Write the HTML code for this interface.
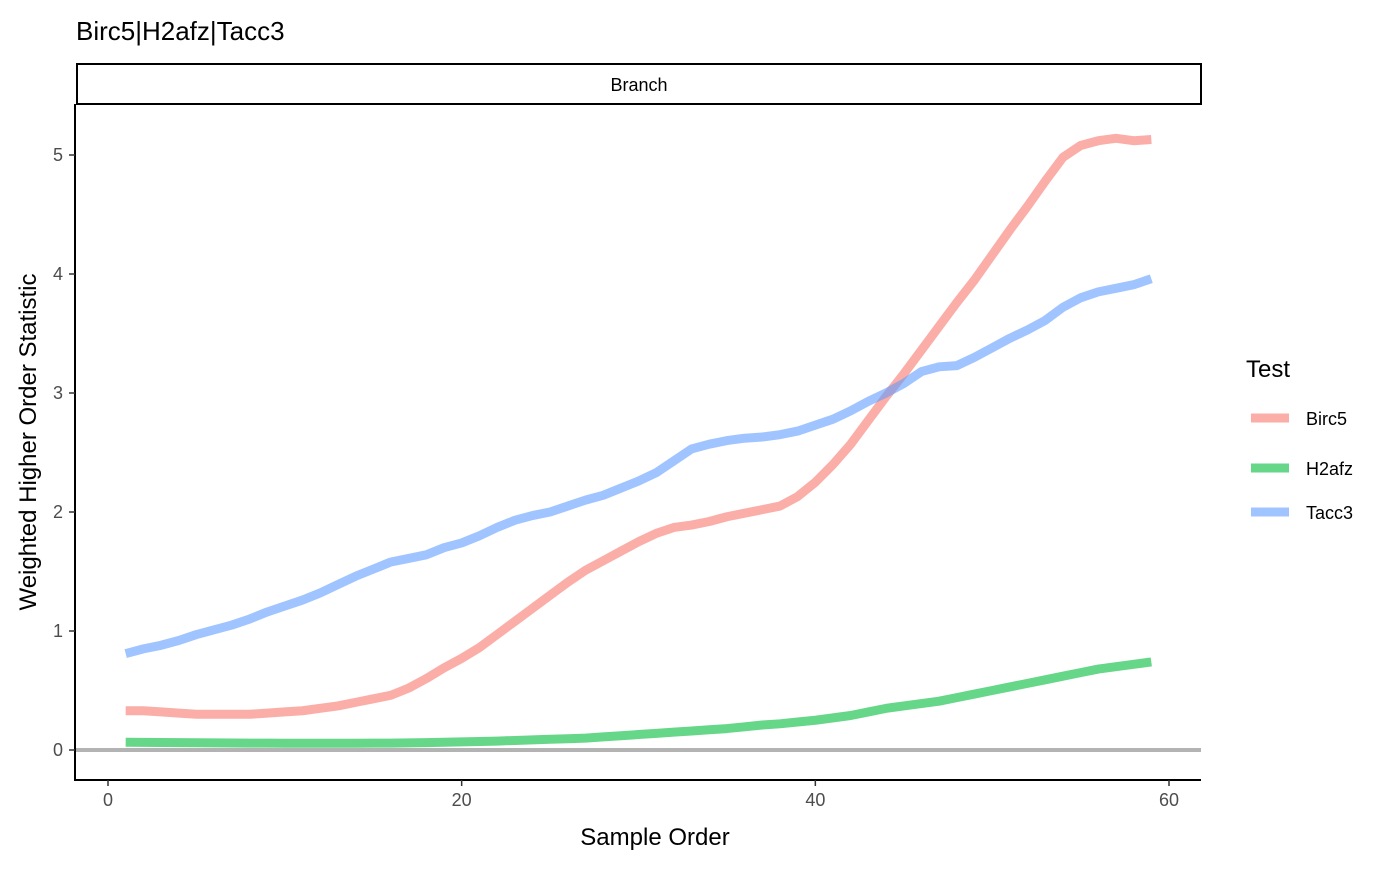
<!DOCTYPE html>
<html><head><meta charset="utf-8"><style>
body{margin:0;background:#fff;font-family:"Liberation Sans",Arial,sans-serif;}
</style></head><body>
<svg id="chart" width="1400" height="865" xmlns="http://www.w3.org/2000/svg" font-family="Liberation Sans, Arial, sans-serif">
<text x="76" y="40" font-size="26" fill="#000">Birc5|H2afz|Tacc3</text>
<rect x="77" y="64" width="1124" height="40" fill="#fff" stroke="#000" stroke-width="2"/>
<text x="639" y="91" font-size="18" text-anchor="middle">Branch</text>
<g id="plot"></g>
<text x="655" y="845" font-size="24" text-anchor="middle">Sample Order</text>
<text transform="translate(36,442) rotate(-90)" font-size="24" text-anchor="middle">Weighted Higher Order Statistic</text>
<text x="1246" y="377" font-size="24">Test</text>
<g id="legend"></g>
</svg>
<script>
const xs = Array.from({length:59},(_, i)=>i+1);
const birc5 = [0.33,0.33,0.32,0.31,0.30,0.30,0.30,0.30,0.31,0.32,0.33,0.35,0.37,0.40,0.43,0.46,0.52,0.60,0.69,0.77,0.86,0.97,1.08,1.19,1.30,1.41,1.51,1.59,1.67,1.75,1.82,1.87,1.89,1.92,1.96,1.99,2.02,2.05,2.13,2.25,2.40,2.57,2.77,2.97,3.16,3.36,3.56,3.76,3.95,4.16,4.37,4.57,4.78,4.98,5.08,5.12,5.14,5.12,5.13];
const h2afz = [0.065,0.064,0.063,0.062,0.061,0.060,0.059,0.058,0.058,0.057,0.057,0.057,0.057,0.057,0.058,0.058,0.06,0.062,0.065,0.068,0.071,0.075,0.08,0.085,0.09,0.095,0.10,0.11,0.12,0.13,0.14,0.15,0.16,0.17,0.18,0.195,0.21,0.22,0.235,0.25,0.27,0.29,0.32,0.35,0.37,0.39,0.41,0.44,0.47,0.50,0.53,0.56,0.59,0.62,0.65,0.68,0.70,0.72,0.74];
const tacc3 = [0.81,0.85,0.88,0.92,0.97,1.01,1.05,1.10,1.16,1.21,1.26,1.32,1.39,1.46,1.52,1.58,1.61,1.64,1.70,1.74,1.80,1.87,1.93,1.97,2.00,2.05,2.10,2.14,2.20,2.26,2.33,2.43,2.53,2.57,2.60,2.62,2.63,2.65,2.68,2.73,2.78,2.85,2.93,3.00,3.08,3.18,3.22,3.23,3.30,3.38,3.46,3.53,3.61,3.72,3.80,3.85,3.88,3.91,3.96];
const seriesNames = ["Birc5","H2afz","Tacc3"];
const xTicks = [0,20,40,60];
const yTicks = [0,1,2,3,4,5];
const colors = ["#F8766D","#00BA38","#619CFF"];
const NS="http://www.w3.org/2000/svg";
const X = v => 108 + v*(1169-108)/60;
const Y = v => 750 - v*119;
const plot = document.getElementById('plot');
function mk(tag, attrs, parent){const e=document.createElementNS(NS,tag);for(const k in attrs)e.setAttribute(k,attrs[k]);parent.appendChild(e);return e;}
const hl = mk('line',{x1:75,x2:1201,y1:Y(0),y2:Y(0),stroke:'#b3b3b3','stroke-width':4},plot);


[birc5,h2afz,tacc3].forEach((s,i)=>{
  const p = mk('polyline',{points:s.map((v,j)=>X(xs[j])+','+Y(v)).join(' '),fill:'none',stroke:colors[i],'stroke-width':9,'stroke-opacity':0.6,'stroke-linejoin':'round'},plot);
  
  
});
const ax = mk('path',{d:'M75,104 V780 H1201',fill:'none',stroke:'#000','stroke-width':2},plot);


xTicks.forEach(t=>{
  mk('line',{x1:X(t),x2:X(t),y1:780,y2:786,stroke:'#333','stroke-width':1.5},plot);
  const tx = mk('text',{x:X(t),y:806,'font-size':18,fill:'#4d4d4d','text-anchor':'middle'},plot);
  tx.textContent=t;
  
  
});
yTicks.forEach(t=>{
  mk('line',{x1:69,x2:75,y1:Y(t),y2:Y(t),stroke:'#333','stroke-width':1.5},plot);
  const tx = mk('text',{x:63,y:Y(t)+6,'font-size':18,fill:'#4d4d4d','text-anchor':'end'},plot);
  tx.textContent=t;
  
  
});
const lg = document.getElementById('legend');
const ly = [418,468,512];
seriesNames.forEach((n,i)=>{
  const k = mk('line',{x1:1251,x2:1289,y1:ly[i],y2:ly[i],stroke:colors[i],'stroke-width':9,'stroke-opacity':0.6},lg);
  
  
  const t = mk('text',{x:1306,y:ly[i]+7,'font-size':18},lg);
  t.textContent=n;
  
  
});
</script>
</body></html>
